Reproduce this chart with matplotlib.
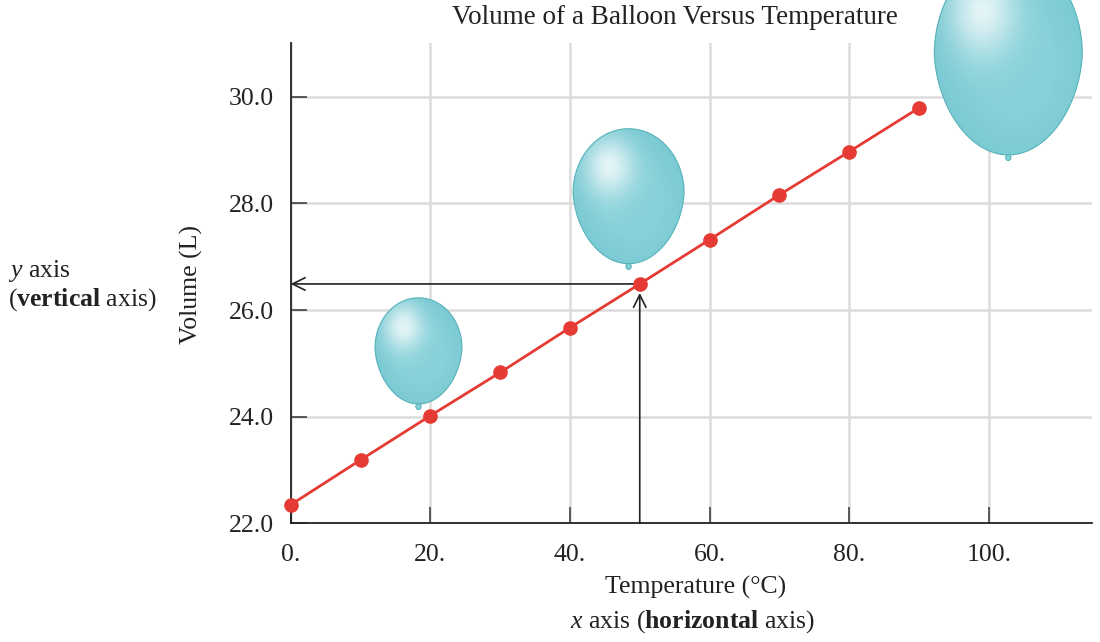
#!/usr/bin/env python3
"""Volume of a balloon versus temperature: red line of measured volumes,
arrows reading off the 50 degree point, and three balloons growing with T."""

import matplotlib
matplotlib.use("Agg")
import matplotlib.pyplot as plt
import numpy as np
from matplotlib.patches import Ellipse, PathPatch
from matplotlib.path import Path

plt.rcParams["font.family"] = ["Liberation Serif", "DejaVu Serif"]
plt.rcParams["mathtext.fontset"] = "custom"
plt.rcParams["mathtext.rm"] = "Liberation Serif"
plt.rcParams["mathtext.it"] = "Liberation Serif:italic"
plt.rcParams["mathtext.bf"] = "Liberation Serif:bold"

# data
temps = [0, 10, 20, 30, 40, 50, 60, 70, 80, 90]
volumes = [22.35, 23.19, 24.02, 24.83, 25.67, 26.49, 27.32, 28.16, 28.97, 29.79]
x_ticks = [0, 20, 40, 60, 80, 100]
x_tick_labels = ["0.", "20.", "40.", "60.", "80.", "100."]
y_ticks = [22, 24, 26, 28, 30]
y_tick_labels = ["22.0", "24.0", "26.0", "28.0", "30.0"]
read_index = 5

# decoration: balloon (centre x, widest y, half width, upper height, lower height)
BALLOONS = [
    (18.3, 25.29, 6.23, 0.94, 1.05),
    (48.4, 28.20, 7.95, 1.20, 1.33),
    (102.8, 30.79, 10.6, 1.88, 1.88),
]

RED = "#e63b34"
INK = "#222222"


def balloon_path(cx, cy, a, bt, bb, n=120):
    th = np.linspace(0, np.pi, n)
    xs_up = cx + a * np.cos(th)
    ys_up = cy + bt * np.sin(th)
    th2 = np.linspace(np.pi, 2 * np.pi, n)
    t = -np.sin(th2)
    xs_lo = cx + a * np.cos(th2) * (1 - 0.07 * t)
    ys_lo = cy - bb * t
    xs = np.r_[xs_up, xs_lo, xs_up[0]]
    ys = np.r_[ys_up, ys_lo, ys_up[0]]
    return Path(np.column_stack([xs, ys]), closed=True)


def balloon_image(n=200):
    u = np.linspace(-1, 1, n)
    U, V = np.meshgrid(u, u)
    base = np.array([0.53, 0.82, 0.85])
    dark = np.array([0.46, 0.78, 0.82])
    edge = np.clip(np.hypot(U - 0.1, V + 0.1) - 0.5, 0, 1)[..., None] * 1.4
    rgb = base * (1 - edge) + dark * edge
    glow = np.exp(-((U + 0.35) ** 2 + (V - 0.45) ** 2) / 0.20)[..., None]
    rgb = rgb + (1 - rgb) * glow * 0.78
    return np.clip(rgb, 0, 1)


fig = plt.figure(figsize=(11, 6.42), dpi=100)
ax = fig.add_axes([0.2643, 0.1847, 0.7285, 0.7477])

img = balloon_image()
for cx, cy, a, bt, bb in BALLOONS:
    outline = PathPatch(balloon_path(cx, cy, a, bt, bb), facecolor="none",
                        edgecolor="#56b2ba", lw=0.8, zorder=2.5, clip_on=False)
    ax.add_patch(outline)
    im = ax.imshow(img, extent=(cx - a, cx + a, cy - bb, cy + bt), origin="lower",
                   aspect="auto", interpolation="bilinear", zorder=2)
    im.set_clip_path(outline)
    im.set_clip_box(fig.bbox)
    ax.add_patch(Ellipse((cx, cy - bb - 0.05), 0.75, 0.11, facecolor="#86d2d8",
                         edgecolor="#56b2ba", lw=0.8, zorder=2.5, clip_on=False))

ax.plot(temps, volumes, color=RED, lw=2, marker="o", markersize=9.5, zorder=3,
        clip_on=False)

tx, vy = temps[read_index], volumes[read_index]
arrow = dict(arrowstyle="->,head_length=0.9,head_width=0.45", color=INK, lw=1.2)
ax.annotate("", xy=(0, vy), xytext=(tx, vy), annotation_clip=False, zorder=2.8,
            arrowprops=dict(arrow, shrinkA=0, shrinkB=0))
ax.annotate("", xy=(tx, vy), xytext=(tx, 22), annotation_clip=False, zorder=2.8,
            arrowprops=dict(arrow, shrinkA=0, shrinkB=6.5))

ax.set_xlim(0, 114.8)
ax.set_ylim(22, 31)
ax.set_xticks(x_ticks, x_tick_labels)
ax.set_yticks(y_ticks, y_tick_labels)
ax.tick_params(direction="in", length=11.5, width=1.1, color="#333333",
               labelsize=18.5, labelcolor=INK)
ax.tick_params(axis="x", pad=14.5)
ax.tick_params(axis="y", pad=12)
ax.grid(True, color="#dcdcdc", lw=1.8)
ax.set_axisbelow(True)
for side in ("top", "right"):
    ax.spines[side].set_visible(False)
for side in ("left", "bottom"):
    ax.spines[side].set_color(INK)
    ax.spines[side].set_linewidth(1.3)

ax.set_xlabel("Temperature (°C)", fontsize=18.5, color=INK, va="baseline")
ax.xaxis.set_label_coords(0.5046, -0.147)
ax.set_ylabel("Volume (L)", fontsize=18.5, color=INK, va="center")
ax.yaxis.set_label_coords(-0.1244, 0.497)

fig.text(674.5 / 1100, 1 - 23.5 / 642, "Volume of a Balloon Versus Temperature",
         ha="center", va="baseline", fontsize=19.5, color=INK)
fig.text(692.5 / 1100, 1 - 628 / 642, r"$\mathit{x}$ axis ($\mathbf{horizontal}$ axis)",
         ha="center", va="baseline", fontsize=18.5, color=INK)
fig.text(8 / 1100, 1 - 277 / 642, r"$\mathit{y}$ axis",
         ha="left", va="baseline", fontsize=18.5, color=INK)
fig.text(8 / 1100, 1 - 306 / 642, r"($\mathbf{vertical}$ axis)",
         ha="left", va="baseline", fontsize=18.5, color=INK)

fig.savefig("out.png", dpi=100)
